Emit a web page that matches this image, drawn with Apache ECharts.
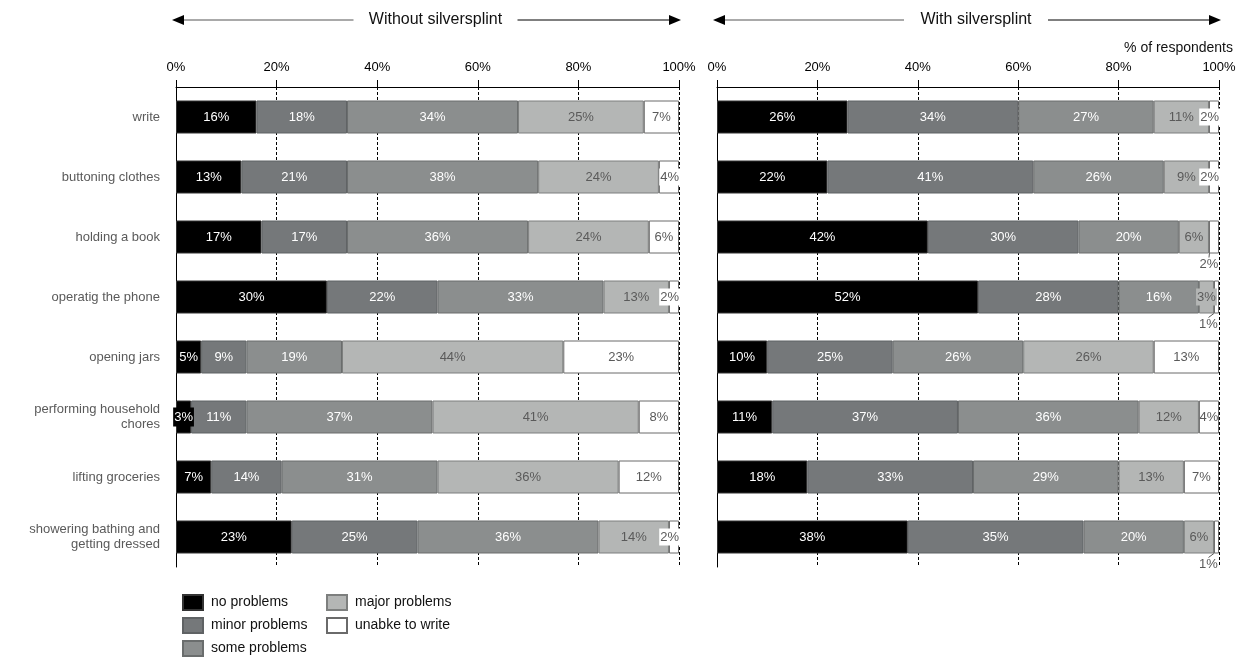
<!DOCTYPE html>
<html>
<head>
<meta charset="utf-8">
<script src="https://cdn.jsdelivr.net/npm/echarts@6/dist/echarts.min.js"></script>
<style>html,body{margin:0;padding:0;background:#fff}#c{width:1243px;height:657px}</style>
</head>
<body>
<div id="c"></div>
<script>
const categories = ['write','buttoning clothes','holding a book','operatig the phone','opening jars','performing household\nchores','lifting groceries','showering bathing and\ngetting dressed'];
const seriesNames = ['no problems','minor problems','some problems','major problems','unabke to write'];
const xTicks = [0,20,40,60,80,100];

const withoutNo    = [16,13,17,30, 5, 3, 7,23];
const withoutMinor = [18,21,17,22, 9,11,14,25];
const withoutSome  = [34,38,36,33,19,37,31,36];
const withoutMajor = [25,24,24,13,44,41,36,14];
const withoutUnable= [ 7, 4, 6, 2,23, 8,12, 2];

const withNo    = [26,22,42,52,10,11,18,38];
const withMinor = [34,41,30,28,25,37,33,35];
const withSome  = [27,26,20,16,26,36,29,20];
const withMajor = [11, 9, 6, 3,26,12,13, 6];
const withUnable= [ 2, 2, 2, 1,13, 4, 7, 1];

const panels = [
  {title:'Without silversplint', data:[withoutNo,withoutMinor,withoutSome,withoutMajor,withoutUnable]},
  {title:'With silversplint', data:[withNo,withMinor,withSome,withMajor,withUnable]}
];

const FONT = 'Liberation Sans, Arial, sans-serif';
const fills = ['#000000','#75787a','#8b8e8e','#b4b6b5','#ffffff'];
const borders = ['#333333','#5f6264','#6a6d6d','#7d7f7e','#6a6a6a'];
const textCols = ['#ffffff','#ffffff','#ffffff','#5a5a5a','#5a5a5a'];

// label style overrides: panel|row|series
const bgWhite = {backgroundColor:'#fff', position:'insideRight', distance:-1, padding:[2,1]};
const labelOverrides = {
  '0|1|4': bgWhite, '0|3|4': bgWhite, '0|7|4': bgWhite,
  '0|5|0': {backgroundColor:'#000', padding:[3,1]},
  '1|0|4': bgWhite, '1|1|4': bgWhite,
  '1|3|3': {backgroundColor:'#b4b6b5', padding:[2,1]}
};
const leaderItems = {'1|2|4':[-5,27], '1|3|4':[-8,27], '1|7|4':[-8,27]};

const grids = [
  {left:176, right:1243-679, top:87, height:480},
  {left:717, right:1243-1219, top:87, height:480}
];

const legendBase = {orient:'vertical', top:594, height:70, padding:0, itemWidth:20, itemHeight:15, itemGap:6, icon:'rect',
  textStyle:{color:'#111', fontSize:14, lineHeight:15, fontFamily:FONT, padding:[0,0,0,3]}, selectedMode:false};

const option = {
  animation:false,
  textStyle:{fontFamily:FONT},
  grid: grids,
  xAxis: grids.map((g,i)=>({
    type:'value', gridIndex:i, min:0, max:100, interval:20, position:'top',
    axisLine:{show:true, lineStyle:{color:'#000', width:1}},
    axisTick:{show:true, length:7, lineStyle:{color:'#000'}},
    axisLabel:{formatter:'{value}%', color:'#000', fontSize:13, fontFamily:FONT, margin:13},
    splitLine:{show:true, lineStyle:{color:'#000', type:[3,2], width:1}}
  })),
  yAxis: grids.map((g,i)=>({
    type:'category', gridIndex:i, data:categories, inverse:true,
    axisLine:{show:true, lineStyle:{color:'#000'}},
    axisTick:{show:false},
    axisLabel:{show:i===0, color:'#5a5a5a', fontSize:13, fontFamily:FONT, margin:16, lineHeight:15, align:'right'}
  })),
  legend: [
    Object.assign({data:seriesNames.slice(0,3), left:182}, legendBase),
    Object.assign({data:seriesNames.slice(3), left:326}, legendBase)
  ],
  title: {text:'% of respondents', right:5, top:36, textStyle:{fontSize:14, fontWeight:'normal', color:'#111', fontFamily:FONT}},
  series: [],
  graphic: []
};

panels.forEach((p,pi)=>{
  p.data.forEach((vals,si)=>{
    const s = {
      type:'bar', name:seriesNames[si], stack:'p'+pi, xAxisIndex:pi, yAxisIndex:pi,
      barWidth:33,
      itemStyle:{color:fills[si], borderColor:borders[si], borderWidth:1},
      label:{show:true, position:'inside', formatter:'{c}%', color:textCols[si], fontSize:13, fontFamily:FONT},
      labelLine:{show:true, lineStyle:{color:'#555', width:1}, length2:0},
      data: vals.map((v,ri)=>{
        const key = pi+'|'+ri+'|'+si;
        const item = {value:v};
        if (labelOverrides[key]) item.label = Object.assign({}, labelOverrides[key]);
        return item;
      })
    };
    const hasLeader = Object.keys(leaderItems).some(k=>k.startsWith(pi+'|') && k.endsWith('|'+si));
    if (hasLeader) {
      s.labelLayout = function(params){
        const key = pi+'|'+params.dataIndex+'|'+si;
        if (leaderItems[key]) return {dx:leaderItems[key][0], dy:leaderItems[key][1]};
        return {};
      };
    } else {
      s.labelLine = {show:false};
    }
    option.series.push(s);
  });
});

// header arrows
function arrowHeader(x0, x1, title, textW){
  const y = 20, cx = (x0+x1)/2 + 8;
  const col = '#000';
  return [
    {type:'line', shape:{x1:x0+6, y1:y, x2:cx-textW/2-14, y2:y}, style:{stroke:'#555', lineWidth:1}},
    {type:'line', shape:{x1:cx+textW/2+14, y1:y, x2:x1-6, y2:y}, style:{stroke:'#000', lineWidth:1}},
    {type:'polygon', shape:{points:[[x0-4,y],[x0+8,y-5],[x0+8,y+5]]}, style:{fill:col}},
    {type:'polygon', shape:{points:[[x1+2,y],[x1-10,y-5],[x1-10,y+5]]}, style:{fill:col}},
    {type:'text', x:cx, y:y, style:{text:title, fill:'#111', font:'16px '+FONT, textAlign:'center', textVerticalAlign:'middle'}}
  ];
}
option.graphic = option.graphic.concat(arrowHeader(176, 679, 'Without silversplint', 136));
option.graphic = option.graphic.concat(arrowHeader(717, 1219, 'With silversplint', 116));

const chart = echarts.init(document.getElementById('c'));
chart.setOption(option);
</script>
</body>
</html>
